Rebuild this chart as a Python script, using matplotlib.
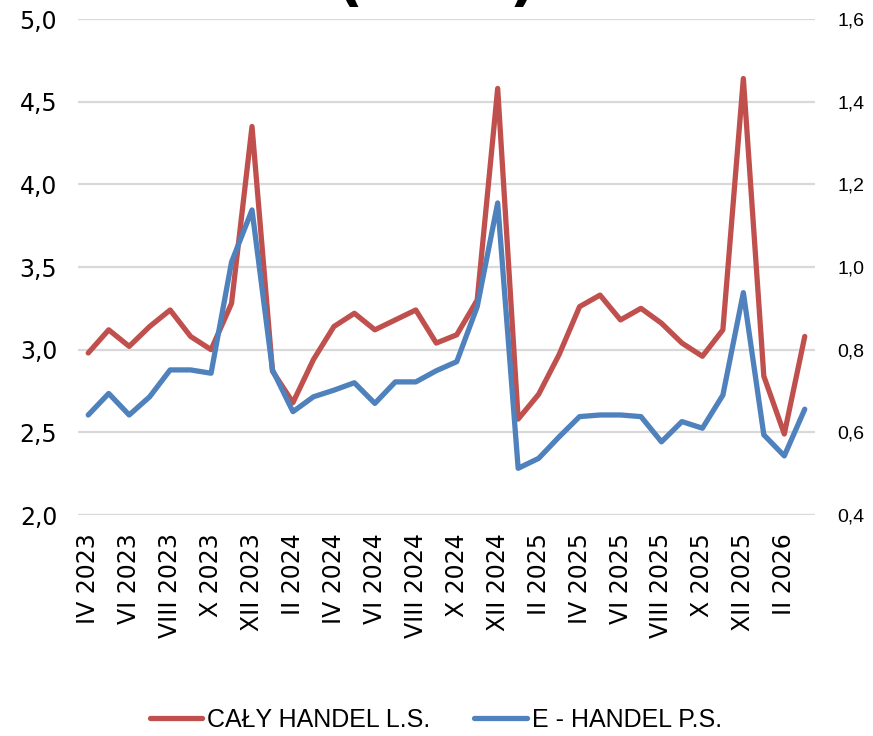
import matplotlib
matplotlib.use("Agg")
import matplotlib.pyplot as plt
import numpy as np

# miesiące IV 2023 - III 2026
roman = ["I", "II", "III", "IV", "V", "VI", "VII", "VIII", "IX", "X", "XI", "XII"]
months = []
for k in range(36):
    m = (3 + k) % 12
    y = 2023 + (3 + k) // 12
    months.append(f"{roman[m]} {y}")

# cały handel (lewa oś)
caly_handel = [2.98, 3.12, 3.02, 3.14, 3.24, 3.08, 3.00, 3.28, 4.35, 2.87,
               2.68, 2.94, 3.14, 3.22, 3.12, 3.18, 3.24, 3.04, 3.09, 3.30,
               4.58, 2.58, 2.73, 2.97, 3.26, 3.33, 3.18, 3.25, 3.16, 3.04,
               2.96, 3.12, 4.64, 2.84, 2.49, 3.08]

# e-handel (prawa oś)
e_handel = [0.642, 0.694, 0.642, 0.686, 0.751, 0.751, 0.743, 1.012, 1.138, 0.751,
            0.650, 0.686, 0.702, 0.720, 0.670, 0.722, 0.722, 0.749, 0.771, 0.904,
            1.155, 0.513, 0.537, 0.589, 0.638, 0.642, 0.642, 0.638, 0.577, 0.626,
            0.610, 0.690, 0.938, 0.594, 0.543, 0.656]

left_ticks = np.arange(2.0, 5.01, 0.5)
right_ticks = np.arange(0.4, 1.61, 0.2)

red = "#C0504D"
blue = "#4F81BD"

fig = plt.figure(figsize=(8.73, 7.36), dpi=100)
ax = fig.add_axes([78 / 873, 1 - 515 / 736, 737 / 873, 496 / 736])
ax2 = ax.twinx()

x = list(range(len(months)))
l1, = ax.plot(x, caly_handel, color=red, lw=3.8, solid_joinstyle="round",
              solid_capstyle="round", zorder=3)
l2, = ax2.plot(x, e_handel, color=blue, lw=3.8, solid_joinstyle="round",
               solid_capstyle="round", zorder=3)

ax.set_xlim(-0.5, 35.5)
ax.set_ylim(2.0, 5.0)
ax2.set_ylim(0.4, 1.6)

ax.set_yticks(left_ticks)
ax.set_yticklabels([f"{v:.1f}".replace(".", ",") for v in left_ticks],
                   fontsize=17, fontfamily="DejaVu Sans")
ax2.set_yticks(right_ticks)
ax2.set_yticklabels([f"{v:.1f}".replace(".", ",") for v in right_ticks],
                    fontsize=14, fontfamily="Liberation Sans")

ax.set_xticks(x[::2])
ax.set_xticklabels(months[::2], rotation=90, fontsize=17, va="top", ha="center",
                   fontfamily="DejaVu Sans")
ax.grid(axis="y", color="#D9D9D9", lw=1.6)
ax.set_axisbelow(True)

for a in (ax, ax2):
    for s in a.spines.values():
        s.set_visible(False)
    a.tick_params(length=0)
ax.tick_params(axis="x", pad=13)
ax.tick_params(axis="y", pad=15)
ax2.tick_params(axis="y", pad=16)

# tytuł wychodzi poza górną krawędź
fig.text(0.5, 1 + 1 / 736, "(W %)", ha="center", va="baseline",
         fontsize=43, fontweight="bold")

fig.legend([l1, l2], ["CAŁY HANDEL L.S.", "E - HANDEL P.S."], loc="center",
           bbox_to_anchor=(436 / 873, 1 - 720 / 736), ncol=2, frameon=False,
           handlelength=2.1, handletextpad=0.2, columnspacing=1.75,
           prop={"family": "Liberation Sans", "size": 18})

plt.savefig("out.png", dpi=100)
